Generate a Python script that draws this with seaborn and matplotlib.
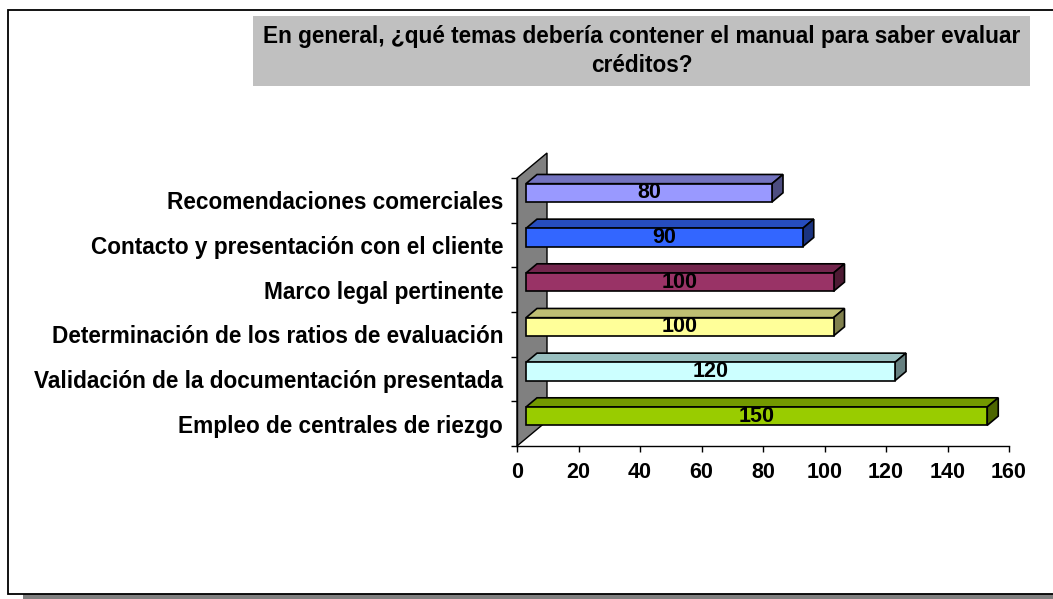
import numpy as np
import pandas as pd
import matplotlib
matplotlib.use("Agg")
import matplotlib.pyplot as plt
from matplotlib.patches import Rectangle, Polygon
from matplotlib.transforms import ScaledTranslation
import seaborn as sns

# ---- data -------------------------------------------------------------
categories = [
    "Recomendaciones comerciales",
    "Contacto y presentación con el cliente",
    "Marco legal pertinente",
    "Determinación de los ratios de evaluación",
    "Validación de la documentación presentada",
    "Empleo de centrales de riezgo",
]
values = [80, 90, 100, 100, 120, 150]
bar_colors = ["#9999FF", "#3366FF", "#993366", "#FFFF99", "#CCFFFF", "#99CC00"]
x_ticks = [0, 20, 40, 60, 80, 100, 120, 140, 160]
title_lines = ["En general, ¿qué temas debería contener el manual para saber evaluar",
               "créditos?"]

# ---- figure / style ---------------------------------------------------
sns.set_theme(style="white")
plt.rcParams["font.family"] = ["Liberation Sans", "DejaVu Sans"]
plt.rcParams["font.weight"] = "bold"
for key in ["text.color", "axes.labelcolor", "xtick.color", "ytick.color"]:
    plt.rcParams[key] = "black"

W, H, DPI = 1053, 599, 100
fig = plt.figure(figsize=(W / DPI, H / DPI), dpi=DPI)
fig.patch.set_facecolor("white")

# outer chart-area frame with a drop shadow
fig.add_artist(Rectangle((23 / W, 0), 1.2, (H - 15) / H, transform=fig.transFigure,
                         facecolor="#808080", edgecolor="none", zorder=-3))
fig.add_artist(Rectangle((8 / W, 1 - 594 / H), 1.2, (594 - 10) / H, transform=fig.transFigure,
                         facecolor="white", edgecolor="black", linewidth=1.3, zorder=-2))

# title box
fig.add_artist(Rectangle((253 / W, 1 - 86 / H), (1030 - 253) / W, 70 / H,
                         transform=fig.transFigure, facecolor="#C0C0C0",
                         edgecolor="none", zorder=-1))
fig.text(641.5 / W, 1 - 36 / H, title_lines[0], ha="center", va="center",
         fontsize=16.3, fontweight="bold", zorder=2)
fig.text(641.5 / W, 1 - 66 / H, title_lines[1], ha="center", va="center",
         fontsize=16.3, fontweight="bold", zorder=2)

# plot area (front plane of the 3-D box)
ax_l, ax_r, ax_t, ax_b = 517, 1009, 178, 446
ax = fig.add_axes([ax_l / W, 1 - ax_b / H, (ax_r - ax_l) / W, (ax_b - ax_t) / H])
ax.set_facecolor("none")

df = pd.DataFrame({"tema": categories, "valor": values})
bar_h = 0.41
sns.barplot(data=df, x="valor", y="tema", hue="tema", palette=bar_colors,
            order=categories, hue_order=categories, orient="h", width=bar_h,
            saturation=1, edgecolor="black", linewidth=1.2, legend=False,
            ax=ax, zorder=3)
bar_patches = [p for p in ax.patches if isinstance(p, Rectangle)]

ax.set_xlim(0, 160)
ax.set_ylim(len(categories) - 0.5, -0.5)
ax.set_xlabel("")
ax.set_ylabel("")

# pixel scale of the axes
sx = (ax_r - ax_l) / 160.0             # px per value unit
sy = (ax_b - ax_t) / len(categories)    # px per category

# back wall (depth 30 px right, 25 px up)
wall_dx, wall_dy = 30 / (ax_r - ax_l), 25 / (ax_b - ax_t)
ax.add_patch(Polygon([(0, 0), (0, 1), (wall_dx, 1 + wall_dy), (wall_dx, wall_dy)],
                     closed=True, transform=ax.transAxes, facecolor="#808080",
                     edgecolor="black", linewidth=1.0, clip_on=False, zorder=1))

# bars sit a little behind the front plane
front_tr = ax.transData + ScaledTranslation(9 / DPI, 7.5 / DPI, fig.dpi_scale_trans)
for p in bar_patches:
    p.set_transform(front_tr)
    p.set_clip_on(False)

# top and side faces of every bar
ddx = 11 / sx
ddy = 9.2 / sy
for i, (v, c) in enumerate(zip(values, bar_colors)):
    rgb = np.array(matplotlib.colors.to_rgb(c))
    top_c = rgb * 0.75
    side_c = rgb * 0.5
    yt, yb = i - bar_h / 2, i + bar_h / 2
    ax.add_patch(Polygon([(0, yt), (v, yt), (v + ddx, yt - ddy), (ddx, yt - ddy)],
                         closed=True, transform=front_tr, facecolor=top_c,
                         edgecolor="black", linewidth=1.2, clip_on=False, zorder=2.5))
    ax.add_patch(Polygon([(v, yt), (v, yb), (v + ddx, yb - ddy), (v + ddx, yt - ddy)],
                         closed=True, transform=front_tr, facecolor=side_c,
                         edgecolor="black", linewidth=1.2, clip_on=False, zorder=2.5))
    ax.text(v / 2, i, f"{v}", transform=front_tr, ha="center", va="center",
            fontsize=15.5, fontweight="bold", color="black", zorder=4)

# axes, ticks and labels
for s in ["top", "right"]:
    ax.spines[s].set_visible(False)
for s in ["left", "bottom"]:
    ax.spines[s].set_color("black")
    ax.spines[s].set_linewidth(1.0)
    ax.spines[s].set_zorder(2)

ax.set_xticks(x_ticks)
ax.set_xticklabels([str(t) for t in x_ticks], fontsize=15.5, fontweight="bold")
ax.tick_params(axis="x", direction="out", length=4.3, width=1.0, color="black",
               pad=7, bottom=True)

ax.set_yticks(range(len(categories)))
ax.set_yticklabels(categories, fontsize=16.3, fontweight="bold")
ax.tick_params(axis="y", which="major", length=0, pad=10)
ax.set_yticks(np.arange(-0.5, len(categories), 1.0), minor=True)
ax.tick_params(axis="y", which="minor", direction="out", length=4.3, width=1.0,
               color="black", left=True)
ax.grid(False)

fig.savefig("out.png", dpi=DPI)
